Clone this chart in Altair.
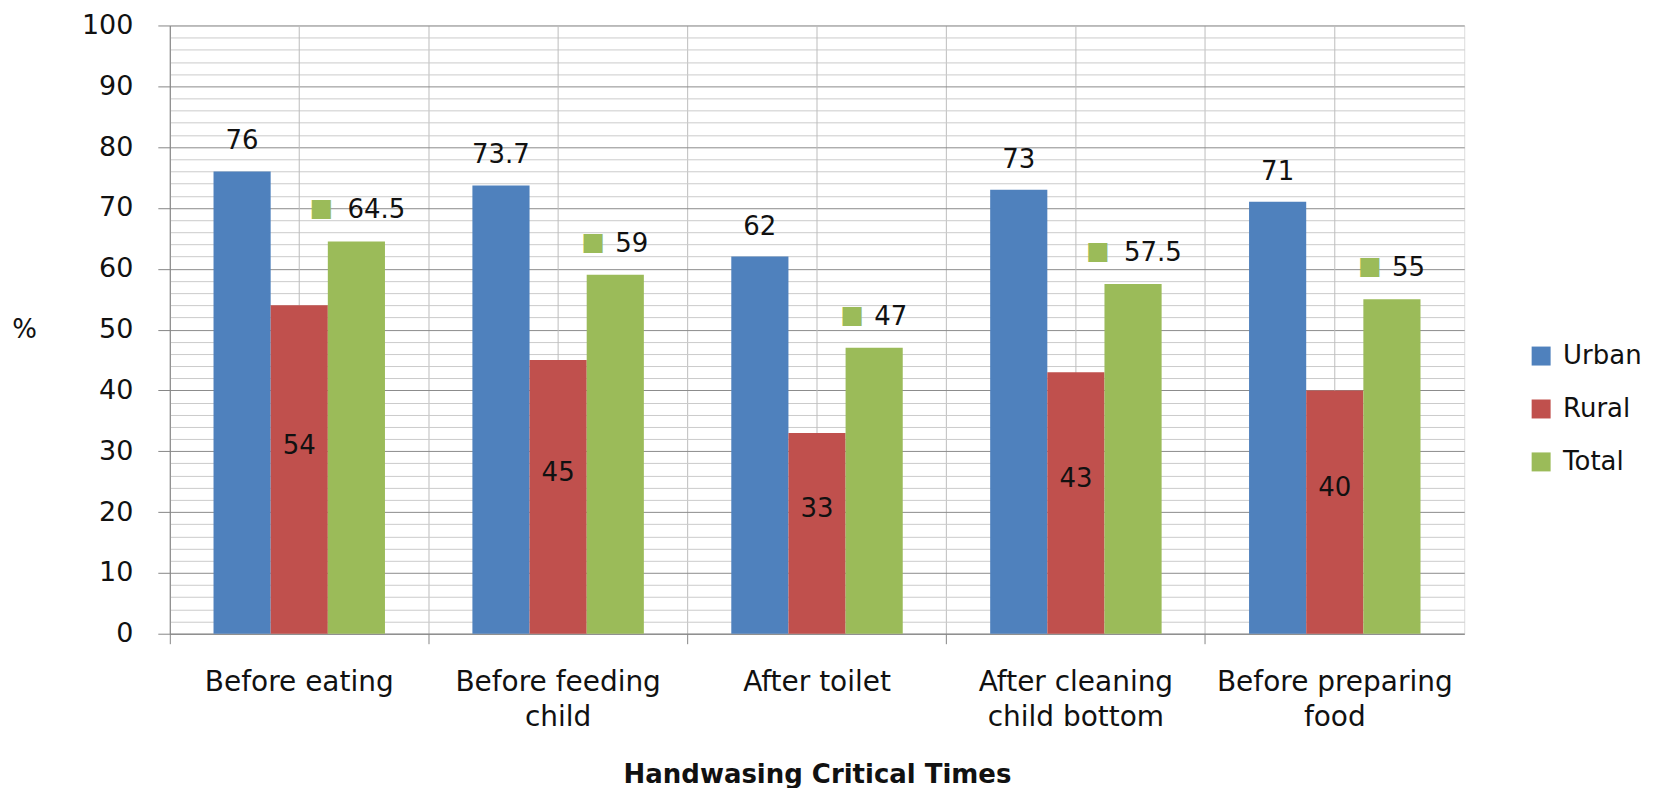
import altair as alt
import pandas as pd

categories = ["Before eating", "Before feeding child", "After toilet",
              "After cleaning child bottom", "Before preparing food"]
category_lines = [["Before eating"], ["Before feeding", "child"], ["After toilet"],
                  ["After cleaning", "child bottom"], ["Before preparing", "food"]]
series = ["Urban", "Rural", "Total"]
urban = [76, 73.7, 62, 73, 71]
rural = [54, 45, 33, 43, 40]
total = [64.5, 59, 47, 57.5, 55]
colors = ["#4F81BD", "#C0504D", "#9BBB59"]

FONT = "DejaVu Sans"
W, H = 1296, 609

rows = []
for i, cat in enumerate(categories):
    for s, vals in zip(series, [urban, rural, total]):
        v = vals[i]
        rows.append({"category": cat, "series": s, "value": v, "label": f"{v:g}"})
df = pd.DataFrame(rows)

label_expr = ""
for cat, lines in zip(categories, category_lines):
    label_expr += f"datum.label === '{cat}' ? {lines!r} : "
label_expr += "datum.label"

x_enc = alt.X(
    "category:N", sort=categories,
    scale=alt.Scale(paddingInner=0, paddingOuter=0),
    axis=alt.Axis(
        title="Handwasing Critical Times", labelAngle=0, bandPosition=0,
        labelExpr=label_expr, grid=True, gridColor="#bdbdbd",
        tickSize=10, tickColor="#868686", domainColor="#868686",
        labelFont=FONT, labelFontSize=28, labelPadding=25, labelLineHeight=35,
        labelColor="#111", labelOverlap=False, labelBound=False, labelLimit=400,
        titleFont=FONT, titleFontSize=26, titleFontWeight="bold",
        titlePadding=30, titleColor="#111",
    ),
)
xoff = alt.XOffset("series:N",
                   scale=alt.Scale(domain=series, paddingInner=0, paddingOuter=0.765))

is10 = "datum.value % 10 === 0"
y_axis = alt.Axis(
    title="%", values=list(range(0, 101, 2)), tickCount=60,
    labelExpr=f"{is10} ? datum.label : ''", labelOverlap=False,
    grid=True,
    gridColor={"condition": {"test": is10, "value": "#8c8c8c"}, "value": "#cbcbcb"},
    tickOpacity={"condition": {"test": is10, "value": 1}, "value": 0},
    tickSize=12, tickColor="#868686", domainColor="#868686",
    labelFont=FONT, labelFontSize=27, labelPadding=25, labelColor="#111",
    titleAngle=0, titleX=-146, titleY=H / 2, titleAlign="center",
    titleBaseline="middle", titleFont=FONT, titleFontSize=26,
    titleFontWeight="normal", titleColor="#111",
)


def y_for(field):
    return alt.Y(f"{field}:Q", scale=alt.Scale(domain=[0, 100], nice=False), axis=y_axis)


base = alt.Chart(df)

centre_rules = base.transform_filter("datum.series === 'Urban'").mark_rule(
    color="#bdbdbd", strokeWidth=1
).encode(x=x_enc, y=alt.datum(0), y2=alt.datum(100))

bars = base.mark_bar().encode(
    x=x_enc, xOffset=xoff, y=y_for("value"),
    color=alt.Color(
        "series:N", scale=alt.Scale(domain=series, range=colors),
        legend=alt.Legend(
            title=None, orient="none", legendX=1360, legendY=318,
            symbolType="square", symbolSize=361, symbolStrokeWidth=0,
            labelFont=FONT, labelFontSize=26, labelColor="#111",
            rowPadding=27, labelOffset=9,
        ),
    ),
)

urban_text = base.transform_filter("datum.series === 'Urban'").mark_text(
    font=FONT, fontSize=26, color="#111", dy=-30, baseline="middle"
).encode(x=x_enc, xOffset=xoff, y=y_for("value"), text="label:N")

rural_text = base.transform_filter("datum.series === 'Rural'").transform_calculate(
    mid="datum.value / 2"
).mark_text(
    font=FONT, fontSize=26, color="#111", dy=-24, baseline="middle"
).encode(x=x_enc, xOffset=xoff, y=y_for("mid"), text="label:N")

total_long = base.transform_filter("datum.series === 'Total' && indexof(datum.label, '.') >= 0")
total_short = base.transform_filter("datum.series === 'Total' && indexof(datum.label, '.') < 0")

total_layers = []
for src, dx_sq, dx_num in [(total_long, -35, -9), (total_short, -22, 0)]:
    total_layers.append(src.mark_text(
        text="■", font=FONT, fontSize=25, color="#9BBB59", dy=-33, dx=dx_sq, baseline="middle"
    ).encode(x=x_enc, xOffset=xoff, y=y_for("value")))
    total_layers.append(src.mark_text(
        font=FONT, fontSize=26, color="#111", dy=-31, dx=dx_num, align="left", baseline="middle"
    ).encode(x=x_enc, xOffset=xoff, y=y_for("value"), text="label:N"))

chart = alt.layer(centre_rules, bars, urban_text, rural_text, *total_layers).properties(
    width=W, height=H,
    padding={"left": 3, "top": 3, "right": 5, "bottom": 0},
).configure_view(stroke="#bdbdbd").configure(background="white")

chart.save("out.html", embed_options={"renderer": "svg", "actions": False})
